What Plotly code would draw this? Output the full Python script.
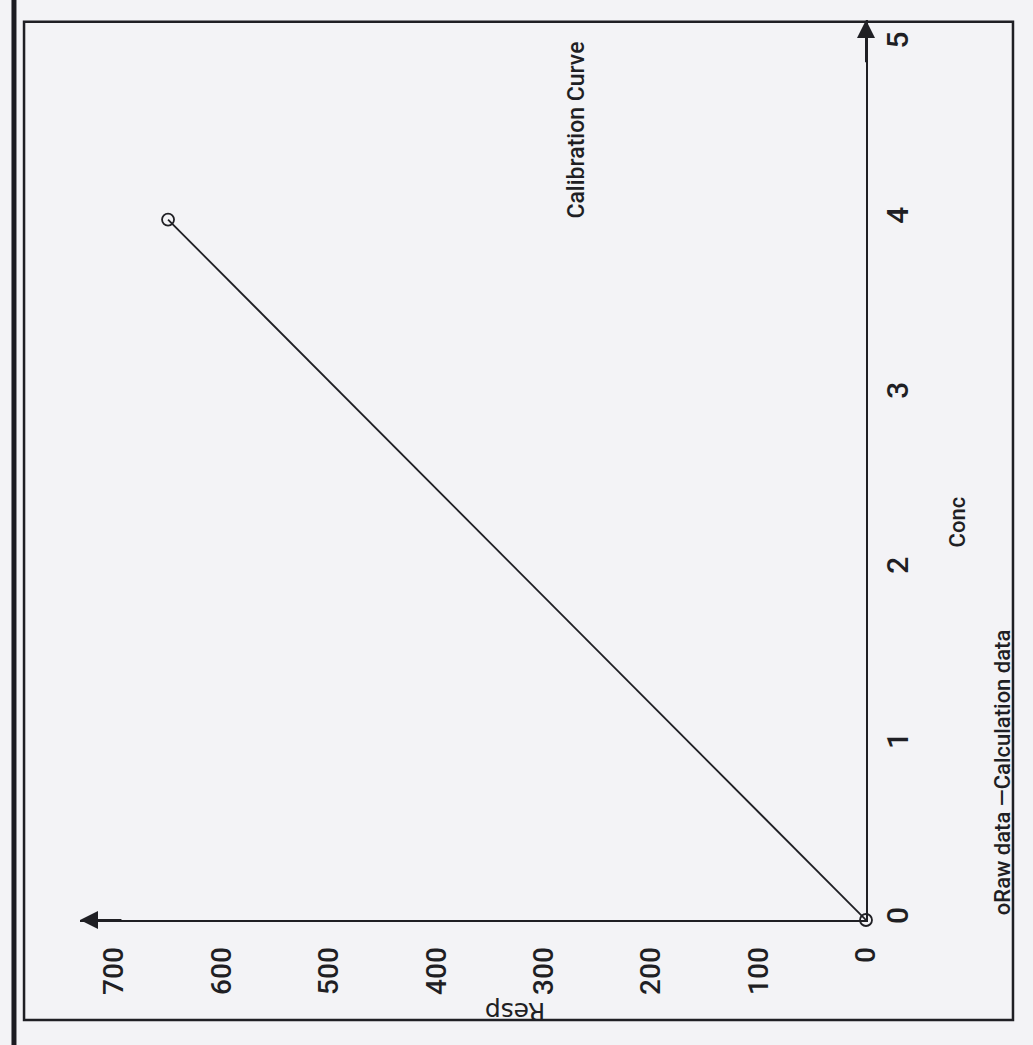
import plotly.graph_objects as go

# Calibration data (concentration vs. instrument response)
conc_raw = [0, 4]
resp_raw = [0, 650]
conc_calc = [0, 4]
resp_calc = [0, 650]

resp_ticks = [0, 100, 200, 300, 400, 500, 600, 700]
conc_ticks = [0, 1, 2, 3, 4, 5]

title_text = "Calibration Curve"
x_title = "Conc"
y_title = "Resp"
legend_text = "oRaw data \u2014Calculation data"

INK = "#1f1f24"
PAPER = "#f3f3f6"
FONT = "Roboto, Liberation Sans, Arial, sans-serif"
WEIGHT = 500

RESP_MAX = 732
CONC_MAX = 5.14

fig = go.Figure()

fig.add_trace(go.Scatter(
    x=resp_calc, y=conc_calc, mode="lines",
    line=dict(color=INK, width=1.8),
    name="Calculation data", showlegend=False, cliponaxis=False,
))
fig.add_trace(go.Scatter(
    x=resp_raw, y=conc_raw, mode="markers",
    marker=dict(symbol="circle-open", size=12, color=INK, line=dict(width=1.8)),
    name="Raw data", showlegend=False, cliponaxis=False,
))

fig.update_layout(
    width=1033, height=1045,
    margin=dict(l=80, r=167, t=20, b=125),
    paper_bgcolor=PAPER, plot_bgcolor=PAPER,
    font=dict(family=FONT, color=INK, size=24, weight=WEIGHT),
    xaxis=dict(
        range=[RESP_MAX, 0], tickvals=resp_ticks,
        ticktext=[str(v) for v in resp_ticks],
        tickangle=-90, ticks="", ticklabelstandoff=14,
        tickfont=dict(size=28, family=FONT, color=INK, weight=WEIGHT),
        showline=True, linecolor=INK, linewidth=2,
        showgrid=False, zeroline=False,
    ),
    yaxis=dict(
        side="right", range=[0, CONC_MAX], tickvals=conc_ticks,
        ticktext=[str(v) for v in conc_ticks],
        tickangle=-90, ticks="", ticklabelstandoff=4,
        tickfont=dict(size=30, family=FONT, color=INK, weight=WEIGHT),
        showline=True, linecolor=INK, linewidth=2,
        showgrid=False, zeroline=False,
    ),
)

# arrowheads at the open ends of both axes
fig.add_annotation(x=RESP_MAX, y=0, ax=RESP_MAX - 40, ay=0,
                   xref="x", yref="y", axref="x", ayref="y",
                   text="", showarrow=True, arrowhead=2, arrowsize=1.8,
                   arrowwidth=2, arrowcolor=INK)
fig.add_annotation(x=0, y=CONC_MAX, ax=0, ay=CONC_MAX - 0.25,
                   xref="x", yref="y", axref="x", ayref="y",
                   text="", showarrow=True, arrowhead=2, arrowsize=1.8,
                   arrowwidth=2, arrowcolor=INK)

# rotated texts
def rotated_label(x, y, text, angle, size, family=FONT):
    fig.add_annotation(x=x, y=y, xref="paper", yref="paper",
                       xanchor="center", yanchor="middle",
                       text=text, textangle=angle, showarrow=False,
                       font=dict(size=size, family=family, color=INK, weight=WEIGHT))

rotated_label(0.632, 0.878, title_text, -90, 23)
rotated_label(1.116, 0.442, x_title, -90, 22)
rotated_label(1.174, 0.164, legend_text, -90, 22)
rotated_label(0.553, -0.101, y_title, 180, 25, "DejaVu Sans, sans-serif")

# chart frame and page edge
fig.add_shape(type="rect", xref="paper", yref="paper",
              x0=-0.0712, x1=1.187, y0=-0.111, y1=0.998,
              line=dict(color=INK, width=2.5), fillcolor="rgba(0,0,0,0)", layer="below")
fig.add_shape(type="line", xref="paper", yref="paper",
              x0=-0.084, x1=-0.084, y0=-0.14, y1=1.03,
              line=dict(color="#1c1c22", width=5))

fig.write_html("out.html")
